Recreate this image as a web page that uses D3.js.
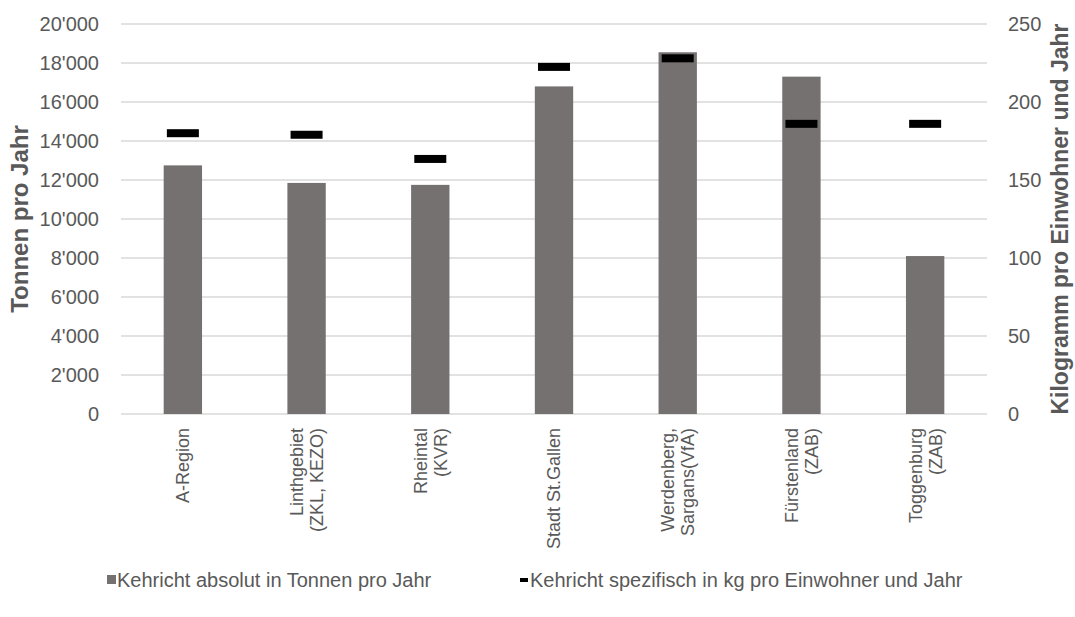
<!DOCTYPE html>
<html>
<head>
<meta charset="utf-8">
<script src="https://cdn.jsdelivr.net/npm/d3@7"></script>
<style>
  body { margin: 0; background: #fff; }
  text { font-family: "Liberation Sans", Arial, sans-serif; fill: #595959; }
</style>
</head>
<body>
<div id="chart"></div>
<script>
// data
var regions = [
    ["A-Region"],
    ["Linthgebiet", "(ZKL, KEZO)"],
    ["Rheintal", "(KVR)"],
    ["Stadt St.Gallen"],
    ["Werdenberg,", "Sargans(VfA)"],
    ["Fürstenland", "(ZAB)"],
    ["Toggenburg", "(ZAB)"]
];
var tonnen = [12750, 11850, 11750, 16800, 18550, 17300, 8100];
var kgProEinwohner = [180, 179, 163.5, 222.5, 228, 186, 186];
var leftTicks = [0, 2000, 4000, 6000, 8000, 10000, 12000, 14000, 16000, 18000, 20000];
var rightTicks = [0, 50, 100, 150, 200, 250];
var seriesNames = ["Kehricht absolut in Tonnen pro Jahr", "Kehricht spezifisch in kg pro Einwohner und Jahr"];

var svgWidth = 1075;
var svgHeight = 617;

var chartMargin = {top: 24, right: 88, bottom: 203, left: 121};
var chartWidth = svgWidth - chartMargin.left - chartMargin.right;
var chartHeight = svgHeight - chartMargin.top - chartMargin.bottom;

var svg = d3.select("#chart")
    .append("svg")
    .attr("width", svgWidth)
    .attr("height", svgHeight);

var chartGroup = svg.append("g")
    .attr("transform", `translate(${chartMargin.left}, ${chartMargin.top})`);

var xScale = d3.scaleBand()
    .domain(d3.range(regions.length))
    .range([0, chartWidth])
    .paddingInner(0.69)
    .paddingOuter(0.345);

var yLeft = d3.scaleLinear().domain([0, 20000]).range([chartHeight, 0]);
var yRight = d3.scaleLinear().domain([0, 250]).range([chartHeight, 0]);

// thousands separator with apostrophe
var fmt = function(d) { return d3.format(",")(d).replace(/,/g, "'"); };

// gridlines
chartGroup.append("g")
    .selectAll("line")
    .data(leftTicks)
    .enter()
    .append("line")
    .attr("x1", 0)
    .attr("x2", chartWidth)
    .attr("y1", d => yLeft(d))
    .attr("y2", d => yLeft(d))
    .attr("stroke", "#d9d9d9")
    .attr("stroke-width", 1.3);

// axes (no domain, no tick lines)
var leftAxis = d3.axisLeft(yLeft).tickValues(leftTicks).tickFormat(fmt).tickSize(0).tickPadding(22);
var rightAxis = d3.axisRight(yRight).tickValues(rightTicks).tickSize(0).tickPadding(21);

var gl = chartGroup.append("g").call(leftAxis);
var gr = chartGroup.append("g").attr("transform", `translate(${chartWidth}, 0)`).call(rightAxis);
[gl, gr].forEach(function(g) {
    g.select(".domain").remove();
    g.selectAll("text")
        .style("font-size", "20px")
        .style("font-family", "'Liberation Sans', Arial, sans-serif")
        .attr("fill", "#595959");
});

// bars
chartGroup.selectAll(".bar")
    .data(tonnen)
    .enter()
    .append("rect")
    .attr("class", "bar")
    .attr("x", (d, i) => xScale(i))
    .attr("y", d => yLeft(d))
    .attr("width", xScale.bandwidth())
    .attr("height", d => chartHeight - yLeft(d))
    .attr("fill", "#767171");

// dash markers on the right axis
var markW = 32, markH = 8;
chartGroup.selectAll(".mark")
    .data(kgProEinwohner)
    .enter()
    .append("rect")
    .attr("class", "mark")
    .attr("x", (d, i) => xScale(i) + xScale.bandwidth() / 2 - markW / 2)
    .attr("y", d => yRight(d) - markH / 2)
    .attr("width", markW)
    .attr("height", markH)
    .attr("fill", "#000");

// category labels, rotated
var lineGap = 20;
var catGroup = chartGroup.selectAll(".cat")
    .data(regions)
    .enter()
    .append("text")
    .attr("class", "cat")
    .attr("transform", (d, i) => `translate(${xScale(i) + xScale.bandwidth() / 2}, ${chartHeight + 14}) rotate(-90)`)
    .attr("text-anchor", "end")
    .style("font-size", "18px");

catGroup.each(function(lines) {
    var t = d3.select(this);
    var offset0 = -(lines.length - 1) * lineGap / 2;
    lines.forEach(function(line, k) {
        t.append("tspan")
            .attr("x", 0)
            .attr("y", offset0 + k * lineGap)
            .attr("dy", "0.36em")
            .text(line);
    });
});

// axis titles
svg.append("text")
    .attr("transform", `translate(28, ${chartMargin.top + chartHeight / 2}) rotate(-90)`)
    .attr("text-anchor", "middle")
    .style("font-size", "24px")
    .style("font-weight", "bold")
    .text("Tonnen pro Jahr");

svg.append("text")
    .attr("transform", `translate(1068, ${chartMargin.top + chartHeight / 2}) rotate(-90)`)
    .attr("text-anchor", "middle")
    .style("font-size", "23px")
    .style("font-weight", "bold")
    .text("Kilogramm pro Einwohner und Jahr");

// legend
var legend = svg.append("g").attr("transform", "translate(0, 580)");
legend.append("rect")
    .attr("x", 107).attr("y", -5)
    .attr("width", 9).attr("height", 9)
    .attr("fill", "#767171");
legend.append("text")
    .attr("x", 117).attr("y", 0).attr("dy", "0.36em")
    .style("font-size", "20px")
    .text(seriesNames[0]);
legend.append("rect")
    .attr("x", 520).attr("y", -2)
    .attr("width", 8).attr("height", 4)
    .attr("fill", "#000");
legend.append("text")
    .attr("x", 530).attr("y", 0).attr("dy", "0.36em")
    .style("font-size", "20px")
    .text(seriesNames[1]);
</script>
</body>
</html>
